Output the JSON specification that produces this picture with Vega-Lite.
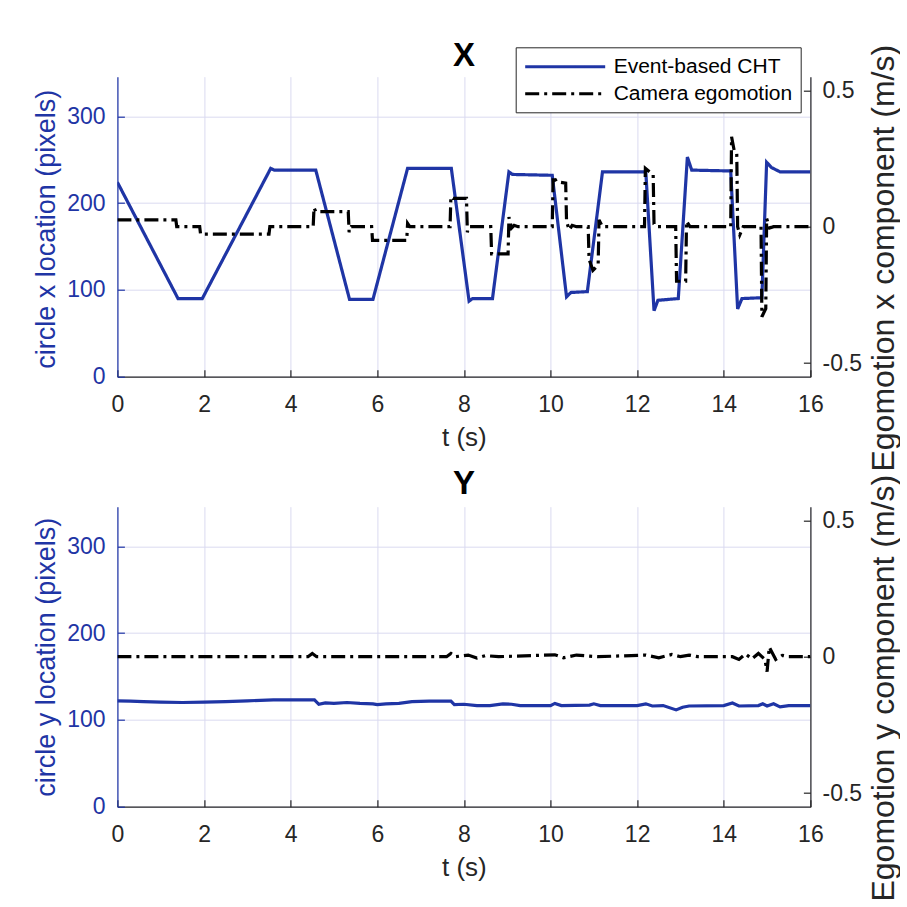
{
  "$schema": "https://vega.github.io/schema/vega-lite/v6.json",
  "background": "white",
  "padding": {"left": 31.4, "top": 38.7, "right": 0, "bottom": 0},
  "bounds": "flush",
  "spacing": 130,
  "config": {
    "font": "Liberation Sans",
    "view": {"stroke": null},
    "axis": {
      "labelFont": "Liberation Sans",
      "titleFont": "Liberation Sans",
      "labelFontSize": 23,
      "titleFontSize": 26,
      "titleFontWeight": "normal",
      "domainColor": "#262626",
      "tickColor": "#262626",
      "labelColor": "#262626",
      "titleColor": "#262626",
      "gridColor": "#dadaf0",
      "gridOpacity": 1,
      "gridWidth": 1,
      "domainWidth": 1.2,
      "tickWidth": 1.2,
      "tickSize": -7,
      "labelFlush": false,
      "labelOverlap": false
    },
    "legend": {
      "labelFont": "Liberation Sans",
      "labelFontSize": 21,
      "labelColor": "#000000"
    }
  },
  "datasets": {
    "cx": [
      {"t": 0, "v": 224, "s": "Event-based CHT"},
      {"t": 1.4, "v": 90, "s": "Event-based CHT"},
      {"t": 1.96, "v": 90, "s": "Event-based CHT"},
      {"t": 3.54, "v": 240, "s": "Event-based CHT"},
      {"t": 3.62, "v": 238, "s": "Event-based CHT"},
      {"t": 4.58, "v": 238, "s": "Event-based CHT"},
      {"t": 5.36, "v": 89, "s": "Event-based CHT"},
      {"t": 5.9, "v": 89, "s": "Event-based CHT"},
      {"t": 6.7, "v": 240, "s": "Event-based CHT"},
      {"t": 7.71, "v": 240, "s": "Event-based CHT"},
      {"t": 8.12, "v": 87, "s": "Event-based CHT"},
      {"t": 8.2, "v": 90, "s": "Event-based CHT"},
      {"t": 8.66, "v": 90, "s": "Event-based CHT"},
      {"t": 9.04, "v": 236, "s": "Event-based CHT"},
      {"t": 9.12, "v": 233, "s": "Event-based CHT"},
      {"t": 10.04, "v": 232, "s": "Event-based CHT"},
      {"t": 10.37, "v": 92, "s": "Event-based CHT"},
      {"t": 10.47, "v": 97, "s": "Event-based CHT"},
      {"t": 10.85, "v": 98, "s": "Event-based CHT"},
      {"t": 11.2, "v": 236, "s": "Event-based CHT"},
      {"t": 12.2, "v": 236, "s": "Event-based CHT"},
      {"t": 12.39, "v": 76, "s": "Event-based CHT"},
      {"t": 12.48, "v": 88, "s": "Event-based CHT"},
      {"t": 12.95, "v": 90, "s": "Event-based CHT"},
      {"t": 13.16, "v": 253, "s": "Event-based CHT"},
      {"t": 13.26, "v": 238, "s": "Event-based CHT"},
      {"t": 14.16, "v": 237, "s": "Event-based CHT"},
      {"t": 14.32, "v": 78, "s": "Event-based CHT"},
      {"t": 14.42, "v": 90, "s": "Event-based CHT"},
      {"t": 14.88, "v": 91, "s": "Event-based CHT"},
      {"t": 14.99, "v": 247, "s": "Event-based CHT"},
      {"t": 15.1, "v": 241, "s": "Event-based CHT"},
      {"t": 15.3, "v": 236, "s": "Event-based CHT"},
      {"t": 16, "v": 236, "s": "Event-based CHT"}
    ],
    "ex": [
      {"t": 0, "v": 0.025, "s": "Camera egomotion"},
      {"t": 1.35, "v": 0.025, "s": "Camera egomotion"},
      {"t": 1.37, "v": 0.0, "s": "Camera egomotion"},
      {"t": 1.9, "v": 0.0, "s": "Camera egomotion"},
      {"t": 1.92, "v": -0.027, "s": "Camera egomotion"},
      {"t": 3.5, "v": -0.027, "s": "Camera egomotion"},
      {"t": 3.52, "v": 0.0, "s": "Camera egomotion"},
      {"t": 4.52, "v": 0.0, "s": "Camera egomotion"},
      {"t": 4.54, "v": 0.07, "s": "Camera egomotion"},
      {"t": 4.58, "v": 0.055, "s": "Camera egomotion"},
      {"t": 5.33, "v": 0.055, "s": "Camera egomotion"},
      {"t": 5.35, "v": -0.02, "s": "Camera egomotion"},
      {"t": 5.4, "v": 0.0, "s": "Camera egomotion"},
      {"t": 5.87, "v": 0.0, "s": "Camera egomotion"},
      {"t": 5.89, "v": -0.05, "s": "Camera egomotion"},
      {"t": 6.68, "v": -0.05, "s": "Camera egomotion"},
      {"t": 6.7, "v": 0.012, "s": "Camera egomotion"},
      {"t": 6.75, "v": 0.0, "s": "Camera egomotion"},
      {"t": 7.68, "v": 0.0, "s": "Camera egomotion"},
      {"t": 7.7, "v": 0.11, "s": "Camera egomotion"},
      {"t": 7.75, "v": 0.104, "s": "Camera egomotion"},
      {"t": 8.06, "v": 0.104, "s": "Camera egomotion"},
      {"t": 8.08, "v": -0.02, "s": "Camera egomotion"},
      {"t": 8.13, "v": 0.0, "s": "Camera egomotion"},
      {"t": 8.62, "v": 0.0, "s": "Camera egomotion"},
      {"t": 8.64, "v": -0.1, "s": "Camera egomotion"},
      {"t": 9.02, "v": -0.1, "s": "Camera egomotion"},
      {"t": 9.04, "v": 0.035, "s": "Camera egomotion"},
      {"t": 9.1, "v": -0.005, "s": "Camera egomotion"},
      {"t": 9.16, "v": 0.005, "s": "Camera egomotion"},
      {"t": 9.25, "v": 0.0, "s": "Camera egomotion"},
      {"t": 10.04, "v": 0.0, "s": "Camera egomotion"},
      {"t": 10.06, "v": 0.185, "s": "Camera egomotion"},
      {"t": 10.14, "v": 0.165, "s": "Camera egomotion"},
      {"t": 10.35, "v": 0.16, "s": "Camera egomotion"},
      {"t": 10.37, "v": 0.02, "s": "Camera egomotion"},
      {"t": 10.43, "v": -0.012, "s": "Camera egomotion"},
      {"t": 10.5, "v": 0.005, "s": "Camera egomotion"},
      {"t": 10.6, "v": 0.0, "s": "Camera egomotion"},
      {"t": 10.87, "v": 0.0, "s": "Camera egomotion"},
      {"t": 10.89, "v": -0.12, "s": "Camera egomotion"},
      {"t": 10.98, "v": -0.16, "s": "Camera egomotion"},
      {"t": 11.1, "v": -0.14, "s": "Camera egomotion"},
      {"t": 11.12, "v": 0.025, "s": "Camera egomotion"},
      {"t": 11.2, "v": 0.0, "s": "Camera egomotion"},
      {"t": 12.17, "v": 0.0, "s": "Camera egomotion"},
      {"t": 12.19, "v": 0.214, "s": "Camera egomotion"},
      {"t": 12.3, "v": 0.2, "s": "Camera egomotion"},
      {"t": 12.37, "v": 0.19, "s": "Camera egomotion"},
      {"t": 12.39, "v": 0.01, "s": "Camera egomotion"},
      {"t": 12.46, "v": 0.0, "s": "Camera egomotion"},
      {"t": 12.89, "v": 0.0, "s": "Camera egomotion"},
      {"t": 12.91, "v": -0.2, "s": "Camera egomotion"},
      {"t": 13.12, "v": -0.2, "s": "Camera egomotion"},
      {"t": 13.14, "v": 0.02, "s": "Camera egomotion"},
      {"t": 13.22, "v": 0.0, "s": "Camera egomotion"},
      {"t": 14.16, "v": 0.0, "s": "Camera egomotion"},
      {"t": 14.18, "v": 0.33, "s": "Camera egomotion"},
      {"t": 14.24, "v": 0.28, "s": "Camera egomotion"},
      {"t": 14.3, "v": 0.27, "s": "Camera egomotion"},
      {"t": 14.32, "v": 0.0, "s": "Camera egomotion"},
      {"t": 14.37, "v": -0.03, "s": "Camera egomotion"},
      {"t": 14.45, "v": 0.0, "s": "Camera egomotion"},
      {"t": 14.86, "v": 0.0, "s": "Camera egomotion"},
      {"t": 14.88, "v": -0.33, "s": "Camera egomotion"},
      {"t": 14.97, "v": -0.3, "s": "Camera egomotion"},
      {"t": 14.99, "v": 0.03, "s": "Camera egomotion"},
      {"t": 15.06, "v": -0.005, "s": "Camera egomotion"},
      {"t": 15.15, "v": 0.0, "s": "Camera egomotion"},
      {"t": 16, "v": 0.0, "s": "Camera egomotion"}
    ],
    "cy": [
      {"t": 0, "v": 122}, {"t": 0.3, "v": 121.5}, {"t": 0.6, "v": 121}, {"t": 1.0, "v": 120.5},
      {"t": 1.5, "v": 120}, {"t": 2.0, "v": 120.5}, {"t": 2.5, "v": 121}, {"t": 3.0, "v": 122},
      {"t": 3.3, "v": 122.5}, {"t": 3.6, "v": 123}, {"t": 4.0, "v": 123}, {"t": 4.55, "v": 123},
      {"t": 4.65, "v": 118}, {"t": 4.8, "v": 119.5}, {"t": 5.0, "v": 119}, {"t": 5.3, "v": 120},
      {"t": 5.6, "v": 119}, {"t": 5.9, "v": 118.5}, {"t": 6.0, "v": 117.5}, {"t": 6.2, "v": 118.5},
      {"t": 6.5, "v": 119}, {"t": 6.8, "v": 121}, {"t": 7.2, "v": 121.5}, {"t": 7.7, "v": 121.5},
      {"t": 7.78, "v": 117.5}, {"t": 8.0, "v": 118}, {"t": 8.3, "v": 116.5}, {"t": 8.6, "v": 116.5},
      {"t": 8.9, "v": 118.5}, {"t": 9.1, "v": 118}, {"t": 9.3, "v": 116.5}, {"t": 10.0, "v": 116.5},
      {"t": 10.1, "v": 119}, {"t": 10.25, "v": 116.5}, {"t": 10.9, "v": 117}, {"t": 11.0, "v": 118.5},
      {"t": 11.15, "v": 116.5}, {"t": 12.0, "v": 116.5}, {"t": 12.2, "v": 118.5}, {"t": 12.35, "v": 116},
      {"t": 12.6, "v": 116.5}, {"t": 12.9, "v": 111.5}, {"t": 13.05, "v": 114.5}, {"t": 13.2, "v": 116},
      {"t": 14.0, "v": 116.5}, {"t": 14.2, "v": 119.5}, {"t": 14.35, "v": 116}, {"t": 14.8, "v": 116.5},
      {"t": 14.9, "v": 118.5}, {"t": 15.0, "v": 116}, {"t": 15.15, "v": 118.5}, {"t": 15.3, "v": 115},
      {"t": 15.5, "v": 116.5}, {"t": 16, "v": 116.5}
    ],
    "ey": [
      {"t": 0, "v": 0}, {"t": 1, "v": 0}, {"t": 2, "v": 0}, {"t": 3, "v": 0}, {"t": 4.4, "v": 0},
      {"t": 4.5, "v": 0.012}, {"t": 4.6, "v": 0}, {"t": 6, "v": 0}, {"t": 7.6, "v": 0},
      {"t": 7.7, "v": 0.012}, {"t": 7.8, "v": 0}, {"t": 8.1, "v": 0.006}, {"t": 8.3, "v": -0.005},
      {"t": 8.5, "v": 0.004}, {"t": 8.8, "v": 0}, {"t": 10.1, "v": 0.007}, {"t": 10.3, "v": -0.004},
      {"t": 10.6, "v": 0.006}, {"t": 10.9, "v": 0.002}, {"t": 11.1, "v": 0}, {"t": 12.2, "v": 0.006},
      {"t": 12.5, "v": -0.004}, {"t": 12.8, "v": 0.008}, {"t": 13.0, "v": 0}, {"t": 13.2, "v": 0.006},
      {"t": 13.4, "v": 0}, {"t": 14.2, "v": 0}, {"t": 14.35, "v": -0.01}, {"t": 14.5, "v": 0.01},
      {"t": 14.65, "v": -0.008}, {"t": 14.8, "v": 0.012}, {"t": 14.95, "v": -0.01}, {"t": 15.0, "v": -0.055},
      {"t": 15.05, "v": 0.035}, {"t": 15.1, "v": 0.02}, {"t": 15.2, "v": -0.01}, {"t": 15.35, "v": 0.005},
      {"t": 15.5, "v": 0}, {"t": 16, "v": 0}
    ]
  },
  "resolve": {"legend": {"color": "independent", "strokeDash": "independent"}},
  "vconcat": [
    {
      "title": {"text": "X", "fontSize": 33, "fontWeight": "bold", "font": "Liberation Sans", "anchor": "middle", "color": "#000000", "offset": -28.4},
      "width": 693,
      "height": 300,
      "resolve": {"scale": {"y": "independent"}},
      "layer": [
        {
          "data": {"name": "cx"},
          "mark": {"type": "line", "strokeWidth": 3.2, "clip": true},
          "encoding": {
            "x": {"field": "t", "type": "quantitative", "scale": {"domain": [0, 16], "nice": false},
              "axis": {"title": "t (s)", "values": [0, 2, 4, 6, 8, 10, 12, 14, 16], "grid": true, "labelPadding": 23.7, "titlePadding": 8.2}},
            "y": {"field": "v", "type": "quantitative", "scale": {"domain": [0, 345.6], "nice": false, "zero": false},
              "axis": {"title": "circle x location (pixels)", "orient": "left", "values": [0, 100, 200, 300], "grid": true,
                "titleFontSize": 27, "titleY": 152, "labelPadding": 19.4, "titlePadding": 6.6,
                "domainColor": "#1f35a5", "tickColor": "#1f35a5", "labelColor": "#1f35a5", "titleColor": "#1f35a5"}},
            "color": {"field": "s", "type": "nominal",
              "scale": {"domain": ["Event-based CHT", "Camera egomotion"], "range": ["#1f35a5", "#000000"]},
              "legend": {"title": null, "orient": "none", "legendX": 398.3, "legendY": -29.4, "fillColor": "white", "strokeColor": "#262626",
                "padding": 8, "symbolType": "M-1,0H7", "symbolSize": 400, "symbolStrokeWidth": 3, "labelOffset": 67, "rowPadding": 5, "labelLimit": 400}},
            "strokeDash": {"field": "s", "type": "nominal",
              "scale": {"domain": ["Event-based CHT", "Camera egomotion"], "range": [[1, 0], [14, 5, 3, 5]]},
              "legend": {"title": null, "orient": "none", "legendX": 398.3, "legendY": -29.4, "fillColor": "white", "strokeColor": "#262626",
                "padding": 8, "symbolType": "M-1,0H7", "symbolSize": 400, "symbolStrokeWidth": 3, "labelOffset": 67, "rowPadding": 5, "labelLimit": 400}}
          }
        },
        {
          "data": {"name": "ex"},
          "mark": {"type": "line", "strokeWidth": 3.2, "clip": true},
          "encoding": {
            "x": {"field": "t", "type": "quantitative", "scale": {"domain": [0, 16], "nice": false},
              "axis": {"title": "t (s)", "values": [0, 2, 4, 6, 8, 10, 12, 14, 16], "grid": true, "labelPadding": 23.7, "titlePadding": 8.2}},
            "y": {"field": "v", "type": "quantitative", "scale": {"domain": [-0.55, 0.55], "nice": false, "zero": false},
              "axis": {"title": "Egomotion x component (m/s)", "orient": "right", "values": [-0.5, 0, 0.5], "grid": false,
                "titleFontSize": 32, "titleAngle": 270, "titleBaseline": "top", "titleY": 181, "labelPadding": 18.6, "titlePadding": 7,
                "labelExpr": "datum.value < 0 ? '-' + format(-datum.value, '.1~f') : format(datum.value, '.1~f')"}},
            "color": {"field": "s", "type": "nominal",
              "scale": {"domain": ["Event-based CHT", "Camera egomotion"], "range": ["#1f35a5", "#000000"]}},
            "strokeDash": {"field": "s", "type": "nominal",
              "scale": {"domain": ["Event-based CHT", "Camera egomotion"], "range": [[1, 0], [14, 5, 3, 5]]}}
          }
        }
      ]
    },
    {
      "title": {"text": "Y", "fontSize": 33, "fontWeight": "bold", "font": "Liberation Sans", "anchor": "middle", "color": "#000000", "offset": -26.4},
      "width": 693,
      "height": 300,
      "resolve": {"scale": {"y": "independent"}},
      "layer": [
        {
          "data": {"name": "cy"},
          "mark": {"type": "line", "strokeWidth": 3.2, "color": "#1f35a5", "clip": true},
          "encoding": {
            "x": {"field": "t", "type": "quantitative", "scale": {"domain": [0, 16], "nice": false},
              "axis": {"title": "t (s)", "values": [0, 2, 4, 6, 8, 10, 12, 14, 16], "grid": true, "labelPadding": 23.7, "titlePadding": 8.2}},
            "y": {"field": "v", "type": "quantitative", "scale": {"domain": [0, 345.6], "nice": false, "zero": false},
              "axis": {"title": "circle y location (pixels)", "orient": "left", "values": [0, 100, 200, 300], "grid": true,
                "titleFontSize": 27, "labelPadding": 19.4, "titlePadding": 6.6,
                "domainColor": "#1f35a5", "tickColor": "#1f35a5", "labelColor": "#1f35a5", "titleColor": "#1f35a5"}}
          }
        },
        {
          "data": {"name": "ey"},
          "mark": {"type": "line", "strokeWidth": 3.2, "color": "#000000", "strokeDash": [14, 5, 3, 5], "clip": true},
          "encoding": {
            "x": {"field": "t", "type": "quantitative", "scale": {"domain": [0, 16], "nice": false},
              "axis": {"title": "t (s)", "values": [0, 2, 4, 6, 8, 10, 12, 14, 16], "grid": true, "labelPadding": 23.7, "titlePadding": 8.2}},
            "y": {"field": "v", "type": "quantitative", "scale": {"domain": [-0.55, 0.55], "nice": false, "zero": false},
              "axis": {"title": "Egomotion y component (m/s)", "orient": "right", "values": [-0.5, 0, 0.5], "grid": false,
                "titleFontSize": 32, "titleAngle": 270, "titleBaseline": "top", "titleY": 181, "labelPadding": 18.6, "titlePadding": 7,
                "labelExpr": "datum.value < 0 ? '-' + format(-datum.value, '.1~f') : format(datum.value, '.1~f')"}}
          }
        }
      ]
    }
  ]
}
